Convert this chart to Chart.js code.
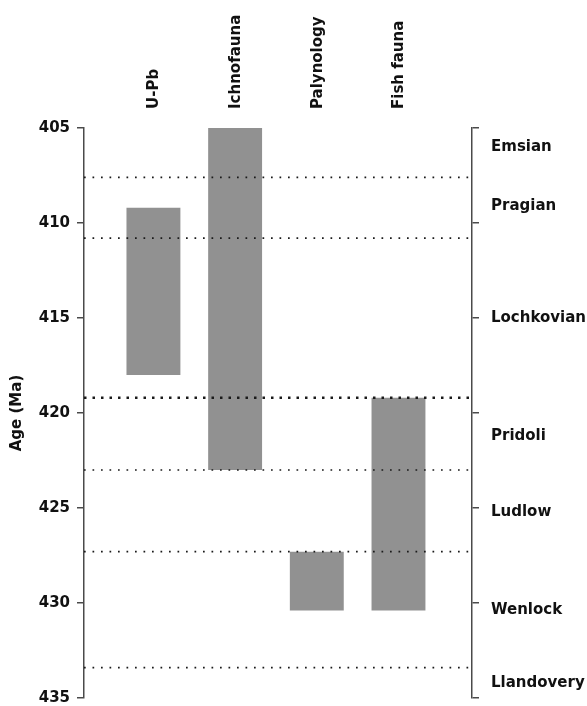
<!DOCTYPE html>
<html>
<head>
<meta charset="utf-8">
<script src="https://cdn.jsdelivr.net/npm/chart.js@4"></script>
<style>
  body { margin: 0; background: #fff; }
  #wrap { width: 587px; height: 706px; }
</style>
</head>
<body>
<div id="wrap"><canvas id="myChart"></canvas></div>
<script>
// age ranges given by each method (Ma)
const methods = ['U-Pb', 'Ichnofauna', 'Palynology', 'Fish fauna'];
const rangeTop = [409.2, 405.0, 427.3, 419.2];
const rangeBase = [418.0, 423.0, 430.4, 430.4];

// stage names on the right and where they sit
const stages = ['Emsian', 'Pragian', 'Lochkovian', 'Pridoli', 'Ludlow', 'Wenlock', 'Llandovery'];
const stageAge = [406.0, 409.1, 415.0, 421.2, 425.2, 430.4, 434.2];

// stage boundaries (dotted lines), 419.2 = Silurian/Devonian
const boundaries = [407.6, 410.8, 419.2, 423.0, 427.3, 433.4];
const majorBoundary = 419.2;

const ageMin = 405, ageMax = 435, ageStep = 5;
const xMin = 0.15, xMax = 4.9;

Chart.defaults.font.family = "'DejaVu Sans', Verdana, sans-serif";
Chart.defaults.color = '#111';

const boldFont = { size: 15, weight: 'bold' };
const axisGray = '#4a4a4a';

// fixed box sizes, and no extra padding from the end labels
function fixWidth(w) {
  return s => { s.width = w; s.paddingTop = 0; s.paddingBottom = 0; };
}

const boundarySets = boundaries.map(b => ({
  type: 'line',
  data: [{ x: xMin, y: b }, { x: xMax, y: b }],
  borderColor: '#1a1a1a',
  borderWidth: b === majorBoundary ? 2.5 : 1.7,
  borderDash: b === majorBoundary ? [2.5, 6] : [1.7, 6.8],
  pointRadius: 0,
  yAxisID: 'y',
  order: 0
}));

new Chart(document.getElementById('myChart'), {
  type: 'bar',
  data: {
    datasets: [{
      data: methods.map((m, i) => ({ x: i + 1, y: [rangeTop[i], rangeBase[i]] })),
      backgroundColor: '#919191',
      borderWidth: 0,
      categoryPercentage: 1,
      barPercentage: 0.66,
      yAxisID: 'y',
      order: 1
    }, ...boundarySets]
  },
  options: {
    responsive: true,
    maintainAspectRatio: false,
    animation: false,
    layout: { padding: { bottom: 8 } },
    plugins: { legend: { display: false }, tooltip: { enabled: false } },
    scales: {
      x: {
        type: 'linear',
        position: 'top',
        offset: false,
        min: xMin,
        max: xMax,
        afterBuildTicks: s => { s.ticks = methods.map((m, i) => ({ value: i + 1 })); },
        afterFit: s => { s.height = 128; s.paddingLeft = 0; s.paddingRight = 0; },
        grid: { display: false, drawTicks: false },
        border: { display: false },
        ticks: {
          autoSkip: false,
          minRotation: 90,
          maxRotation: 90,
          padding: 19,
          labelOffset: 19,
          font: boldFont,
          callback: (v, i) => methods[i]
        }
      },
      y: {
        position: 'left',
        reverse: true,
        min: ageMin,
        max: ageMax,
        afterFit: fixWidth(84),
        grid: { drawOnChartArea: false, tickLength: 7, color: axisGray, lineWidth: 1.5 },
        border: { color: axisGray, width: 1.5 },
        ticks: { stepSize: ageStep, padding: 7, font: boldFont },
        title: { display: true, text: 'Age (Ma)', font: boldFont, padding: { top: 8, bottom: 4 } }
      },
      yRight: {
        position: 'right',
        weight: 0,
        reverse: true,
        min: ageMin,
        max: ageMax,
        afterFit: fixWidth(8),
        grid: { drawOnChartArea: false, tickLength: 7, color: axisGray, lineWidth: 1.5 },
        border: { color: axisGray, width: 1.5 },
        ticks: { stepSize: ageStep, display: false }
      },
      stage: {
        position: 'right',
        weight: 1,
        reverse: true,
        min: ageMin,
        max: ageMax,
        afterBuildTicks: s => { s.ticks = stageAge.map(a => ({ value: a })); },
        afterFit: fixWidth(107),
        grid: { display: false, drawTicks: false },
        border: { display: false },
        ticks: {
          autoSkip: false,
          padding: 11,
          font: boldFont,
          callback: (v, i) => stages[i]
        }
      }
    }
  }
});
</script>
</body>
</html>
